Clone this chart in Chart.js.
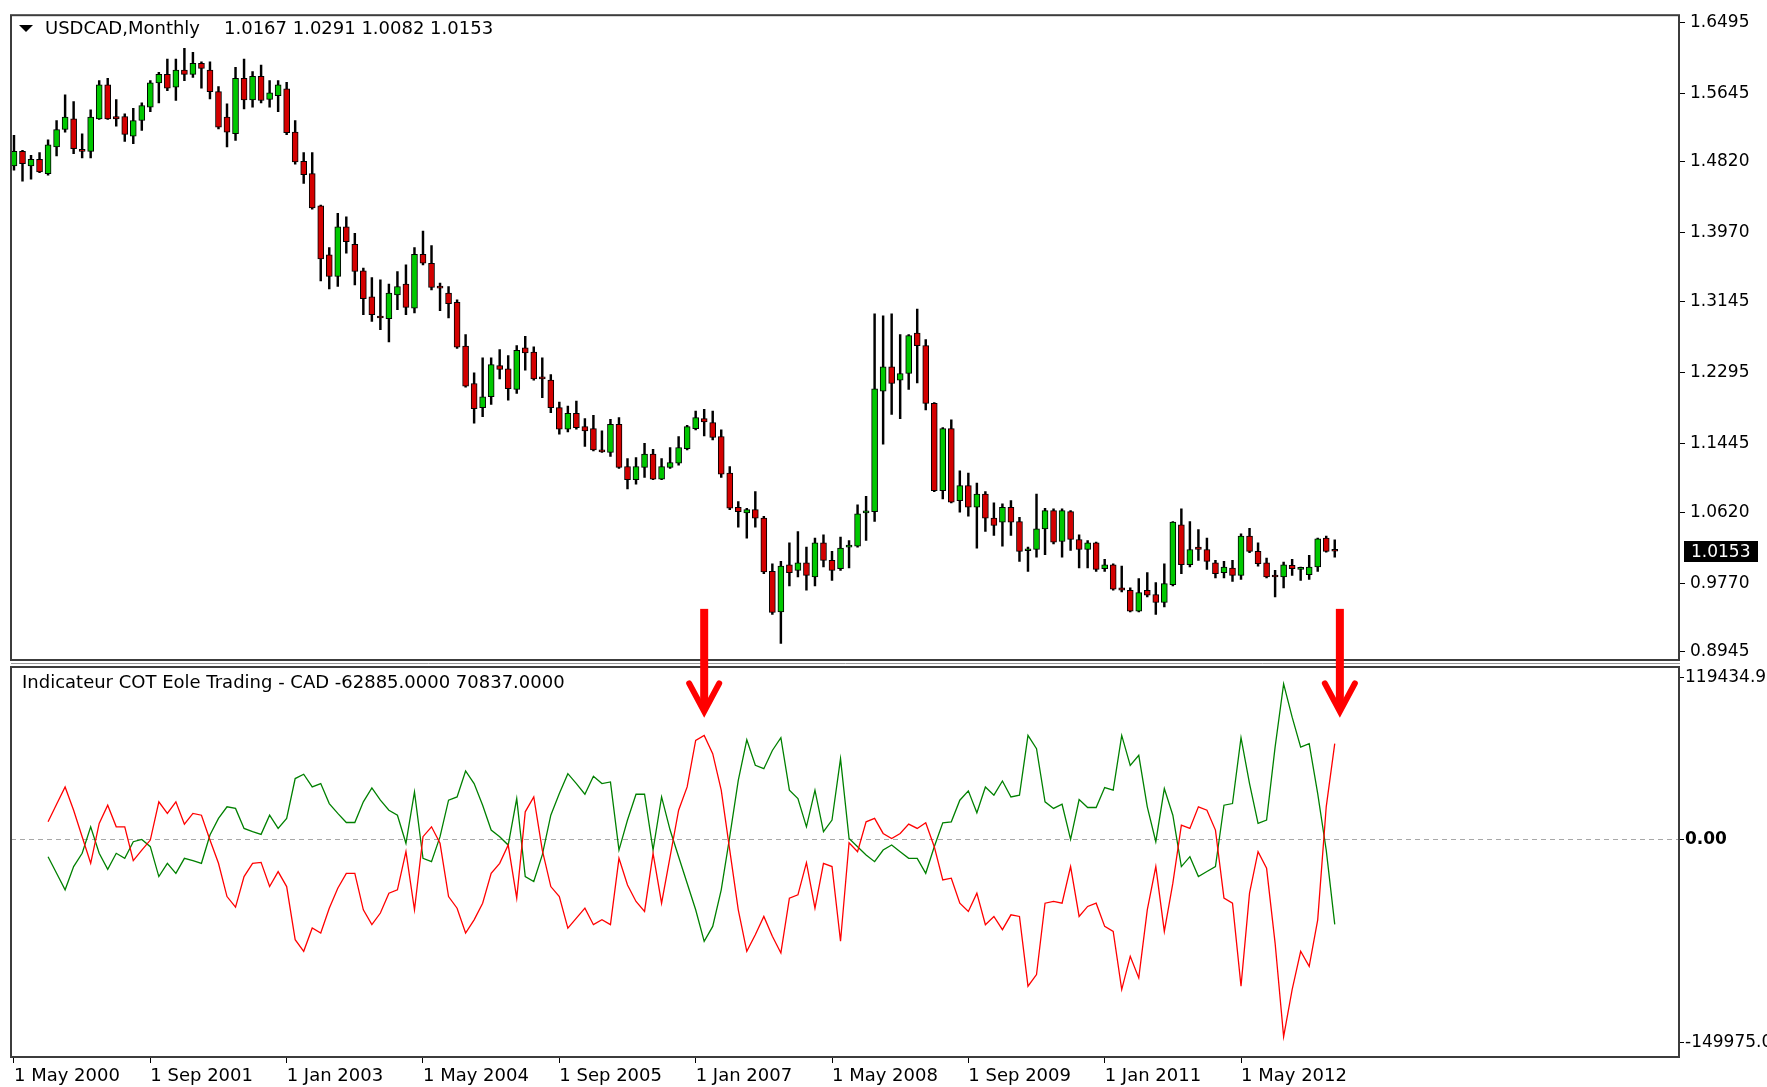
<!DOCTYPE html>
<html>
<head>
<meta charset="utf-8">
<script src="https://cdn.jsdelivr.net/npm/chart.js@4.4.1/dist/chart.umd.min.js"></script>
<style>
  html, body { margin: 0; padding: 0; background: #fff; }
  #wrap { position: relative; width: 1767px; height: 1087px; }
</style>
</head>
<body>
<div id="wrap"><canvas id="chart"></canvas></div>
<script>
const FONT = "'DejaVu Sans', sans-serif";

// USDCAD monthly candles, May 2000 .. Apr 2013 (one entry per month)
const opens = [1.4772,1.4947,1.4772,1.4851,1.4680,1.4999,1.5209,1.5337,1.4959,1.4947,
  1.5337,1.5743,1.5365,1.5365,1.5130,1.5317,1.5476,1.5767,1.5870,1.5715,
  1.5922,1.5870,1.6001,1.5922,1.5663,1.5357,1.5158,1.5822,1.5564,1.5846,
  1.5568,1.5615,1.5695,1.5178,1.4827,1.4680,1.4294,1.3705,1.3446,1.4043,
  1.3832,1.3514,1.3204,1.2965,1.2941,1.3227,1.3355,1.3068,1.3713,1.3605,
  1.3327,1.3247,1.3136,1.2611,1.2164,1.1874,1.2005,1.2379,1.2340,1.2093,
  1.2590,1.2539,1.2232,1.2204,1.1874,1.1615,1.1806,1.1647,1.1623,1.1368,
  1.1337,1.1675,1.1169,1.1010,1.1158,1.1317,1.1018,1.1158,1.1209,1.1384,
  1.1623,1.1743,1.1695,1.1528,1.1090,1.0680,1.0612,1.0652,1.0549,0.9912,
  0.9426,0.9991,0.9924,1.0015,0.9844,1.0254,1.0043,0.9944,1.0202,1.0214,
  1.0612,1.0628,1.2073,1.2363,1.2204,1.2284,1.2769,1.2618,1.1926,1.0879,
  1.1623,1.0760,1.0939,1.0680,1.0839,1.0549,1.0501,1.0680,1.0509,1.0159,
  1.0174,1.0421,1.0640,1.0270,1.0628,1.0294,1.0174,1.0254,0.9944,0.9991,
  0.9713,0.9685,0.9434,0.9685,0.9633,0.9538,0.9752,1.0469,0.9991,1.0202,
  1.0174,1.0015,0.9896,0.9952,0.9864,1.0334,1.0151,1.0015,0.9864,0.9844,
  0.9983,0.9936,0.9872,0.9964,1.0310,1.0167];
const highs = [1.5138,1.4959,1.4899,1.4931,1.5086,1.5317,1.5623,1.5544,1.5158,1.5444,
  1.5795,1.5822,1.5568,1.5397,1.5464,1.5528,1.5795,1.5894,1.6053,1.6053,
  1.6181,1.6133,1.6021,1.6021,1.5723,1.5516,1.5954,1.6053,1.5902,1.5982,
  1.5795,1.5795,1.5775,1.5317,1.4931,1.4931,1.4302,1.3793,1.4203,1.4163,
  1.3964,1.3546,1.3434,1.3407,1.3355,1.3506,1.3586,1.3793,1.3992,1.3816,
  1.3367,1.3327,1.3168,1.2750,1.2292,1.2471,1.2471,1.2570,1.2499,1.2618,
  1.2730,1.2602,1.2471,1.2272,1.1942,1.1894,1.1954,1.1743,1.1782,1.1595,
  1.1735,1.1755,1.1265,1.1277,1.1448,1.1376,1.1265,1.1396,1.1528,1.1663,
  1.1834,1.1854,1.1834,1.1607,1.1169,1.0748,1.0668,1.0867,1.0572,1.0003,
  1.0031,1.0254,1.0389,1.0202,1.0310,1.0350,1.0151,1.0322,1.0282,1.0708,
  1.0811,1.3000,1.2976,1.3000,1.2750,1.2750,1.3056,1.2690,1.1934,1.1635,
  1.1727,1.1118,1.1090,1.0970,1.0867,1.0732,1.0720,1.0760,1.0560,1.0202,
  1.0839,1.0668,1.0660,1.0660,1.0640,1.0350,1.0282,1.0262,1.0055,1.0003,
  0.9975,0.9713,0.9824,0.9896,0.9776,1.0003,1.0509,1.0660,1.0509,1.0413,
  1.0310,1.0043,1.0031,1.0043,1.0362,1.0429,1.0254,1.0071,0.9924,1.0023,
  1.0055,0.9964,1.0103,1.0310,1.0334,1.0291];
const lows = [1.4720,1.4589,1.4612,1.4690,1.4660,1.4891,1.5178,1.4919,1.4867,1.4867,
  1.5329,1.5329,1.5249,1.5066,1.5038,1.5198,1.5424,1.5528,1.5675,1.5556,
  1.5795,1.5834,1.5703,1.5576,1.5217,1.4999,1.5078,1.5456,1.5476,1.5528,
  1.5476,1.5424,1.5146,1.4792,1.4561,1.4254,1.3395,1.3299,1.3327,1.3725,
  1.3347,1.2989,1.2909,1.2810,1.2662,1.3048,1.2989,1.3009,1.3586,1.3287,
  1.3036,1.2949,1.2583,1.2121,1.1687,1.1766,1.1914,1.2220,1.1965,1.2045,
  1.2324,1.2204,1.1993,1.1814,1.1556,1.1583,1.1615,1.1408,1.1356,1.1337,
  1.1289,1.1146,1.0899,1.0958,1.1038,1.1010,1.1010,1.1146,1.1185,1.1368,
  1.1607,1.1536,1.1488,1.1038,1.0652,1.0441,1.0310,1.0441,0.9884,0.9394,
  0.9048,0.9737,0.9844,0.9685,0.9737,0.9964,0.9804,0.9924,0.9952,1.0202,
  1.0282,1.0509,1.1436,1.1794,1.1743,1.2093,1.2172,1.1846,1.0867,1.0779,
  1.0732,1.0620,1.0572,1.0190,1.0389,1.0342,1.0214,1.0342,1.0031,0.9912,
  1.0083,1.0111,1.0242,1.0083,1.0163,0.9952,0.9952,0.9912,0.9912,0.9685,
  0.9665,0.9426,0.9426,0.9605,0.9394,0.9486,0.9737,0.9884,0.9964,1.0043,
  0.9936,0.9832,0.9832,0.9792,0.9816,1.0135,0.9975,0.9832,0.9605,0.9713,
  0.9864,0.9804,0.9816,0.9912,1.0143,1.0082];
const closes = [1.4947,1.4799,1.4851,1.4700,1.5026,1.5209,1.5357,1.4979,1.4947,1.5357,
  1.5743,1.5337,1.5337,1.5150,1.5317,1.5496,1.5767,1.5870,1.5703,1.5922,
  1.5870,1.6001,1.5942,1.5663,1.5237,1.5178,1.5822,1.5564,1.5846,1.5556,
  1.5647,1.5743,1.5170,1.4819,1.4668,1.4270,1.3657,1.3446,1.4043,1.3864,
  1.3506,1.3180,1.2989,1.2949,1.3247,1.3327,1.3076,1.3713,1.3605,1.3315,
  1.3307,1.3120,1.2599,1.2133,1.1862,1.2005,1.2391,1.2332,1.2101,1.2562,
  1.2531,1.2220,1.2220,1.1874,1.1615,1.1806,1.1635,1.1595,1.1368,1.1345,
  1.1675,1.1158,1.1010,1.1169,1.1317,1.1018,1.1169,1.1217,1.1396,1.1647,
  1.1755,1.1703,1.1516,1.1078,1.0668,1.0628,1.0652,1.0549,0.9904,0.9418,
  0.9975,0.9896,1.0015,0.9864,1.0254,1.0043,0.9924,1.0190,1.0222,1.0600,
  1.0628,1.2101,1.2363,1.2164,1.2284,1.2738,1.2618,1.1926,1.0879,1.1623,
  1.0740,1.0939,1.0680,1.0839,1.0549,1.0461,1.0680,1.0501,1.0151,1.0174,
  1.0421,1.0640,1.0262,1.0640,1.0294,1.0174,1.0254,0.9936,0.9991,0.9697,
  0.9685,0.9434,0.9657,0.9625,0.9538,0.9764,1.0501,0.9991,1.0174,1.0174,
  1.0031,0.9884,0.9964,0.9864,1.0334,1.0151,1.0003,0.9844,0.9844,0.9991,
  0.9944,0.9952,0.9964,1.0302,1.0151,1.0153];

// COT indicator, one value per month starting at the 5th candle (Sep 2000)
const cotStart = 4;
const cotGreen = [-12800,-25100,-37300,-20100,-10300,9300,-10300,-22100,-10300,-14000,
  -1700,0,-5400,-27500,-17700,-25100,-14000,-15700,-17700,3200,
  15500,24100,22900,8100,5700,3700,17900,8100,15500,45000,
  48200,38800,41300,26500,19200,12500,12500,27800,38100,29000,
  21600,17900,-2900,35100,-14000,-16500,2000,29000,31400,50600,
  41300,25300,6900,2000,-4200,30200,-27500,-31200,-11500,17900,
  33900,48600,41300,33400,46700,41300,42500,-7900,14300,33400,
  33400,-7900,31400,6900,-12800,-32400,-52100,-75400,-64400,-37300,
  2000,43700,73700,54800,52300,65800,75200,36400,30200,9300,
  36400,5700,14300,59700,700,-5400,-11500,-16500,-7900,-4200,
  -9100,-14000,-14000,-25100,-5400,12300,13000,29000,35900,19700,
  38800,32700,43200,31400,32700,76900,67100,27800,22900,26000,
  0,29500,23600,23600,38300,36400,76900,54800,62200,24100,
  -1700,37600,17900,-20100,-12800,-27500,-23800,-20100,25300,26500,
  75200,41300,11800,14300,68300,115000,90400,68300,70800,33900,
  -7900,-62885];
const cotRed = [13000,26000,38800,21600,2000,-17700,11800,25300,9300,9300,
  -15700,-7900,-500,27800,19200,27800,11300,19200,17900,-500,
  -17700,-42300,-50100,-27500,-17700,-17000,-34900,-23800,-34900,-74200,
  -82800,-65600,-69300,-50900,-36100,-25100,-25100,-52100,-63100,-54500,
  -39800,-37300,-9100,-52100,2000,9300,-2900,-42300,-50900,-69300,
  -59500,-47200,-25100,-17700,-4200,-43500,20400,31400,-7900,-34900,
  -42300,-65600,-58200,-50900,-63100,-59500,-63100,-14000,-33700,-45900,
  -53300,-10300,-47200,-12800,21600,38800,73200,76900,63400,36400,
  -7900,-52100,-82800,-70500,-57000,-71700,-84000,-43500,-41000,-17200,
  -50900,-17700,-20100,-75400,-2500,-9100,13000,15500,4400,700,
  4400,11300,8100,12300,-5400,-30000,-28700,-47200,-53300,-39800,
  -63100,-57000,-66800,-55800,-57000,-108600,-100000,-47200,-45900,-47200,
  -20100,-57000,-49600,-47200,-64400,-68100,-111100,-86500,-102500,-52100,
  -20100,-68100,-32400,10600,8100,24100,21600,6900,-43500,-47200,
  -108600,-39800,-9100,-21400,-76700,-145900,-111100,-82800,-93900,-59500,
  24100,70837];

const priceTicks = [1.6495, 1.5645, 1.4820, 1.3970, 1.3145, 1.2295, 1.1445, 1.0620, 0.9770, 0.8945];
const cotTicks = [119434.9, 0, -149975];
const cotTickLabels = ['119434.9', '0.00', '-149975.0'];
const dateTickBars = [0, 16, 32, 48, 64, 80, 96, 112, 128, 144];
const dateTickLabels = ['1 May 2000', '1 Sep 2001', '1 Jan 2003', '1 May 2004', '1 Sep 2005',
  '1 Jan 2007', '1 May 2008', '1 Sep 2009', '1 Jan 2011', '1 May 2012'];
const lastQuote = [1.0167, 1.0291, 1.0082, 1.0153];

// red arrows: bar position, start on the price pane, tip on the COT pane
const arrows = [
  { bar: 81, fromPrice: 0.9462, toCot: 93200 },
  { bar: 155.6, fromPrice: 0.9462, toCot: 93200 }
];

const wicks = lows.map((l, i) => ({ x: i, y: [l, highs[i]] }));
const bodies = opens.map((o, i) => ({ x: i, y: [o, closes[i]] }));
const bodyColors = opens.map((o, i) => closes[i] >= o ? '#00c800' : '#d40000');

const overlay = {
  id: 'overlay',
  beforeDatasetsDraw(chart) {
    const { ctx, chartArea: a, scales } = chart;
    const y0 = Math.round(scales.yCot.getPixelForValue(0)) + 0.5;
    ctx.save();
    ctx.strokeStyle = '#a8a8a8';
    ctx.lineWidth = 1;
    ctx.setLineDash([5, 4]);
    ctx.beginPath();
    ctx.moveTo(a.left, y0);
    ctx.lineTo(a.right, y0);
    ctx.stroke();
    ctx.restore();
  },
  afterDraw(chart) {
    const { ctx, chartArea: a, scales } = chart;
    const { x, yPrice, yCot } = scales;
    const split = Math.round(yPrice.bottom);
    ctx.save();

    // pane frames and separator
    ctx.fillStyle = '#fff';
    ctx.fillRect(a.left, split - 3, a.right - a.left + 1, 6);
    ctx.strokeStyle = '#3c3c3c';
    ctx.lineWidth = 2;
    ctx.strokeRect(a.left, a.top, a.right - a.left, split - 3 - a.top);
    ctx.strokeRect(a.left, split + 4, a.right - a.left, a.bottom - split - 4);
    ctx.strokeStyle = '#9a9a9a';
    ctx.lineWidth = 1;
    ctx.beginPath();
    ctx.moveTo(a.left, split + 0.5);
    ctx.lineTo(a.right + 1, split + 0.5);
    ctx.stroke();

    // pane captions
    ctx.font = '18px ' + FONT;
    ctx.textBaseline = 'middle';
    ctx.fillStyle = '#000';
    ctx.beginPath();
    ctx.moveTo(19, 25); ctx.lineTo(33, 25); ctx.lineTo(26, 32); ctx.closePath();
    ctx.fill();
    ctx.fillText('USDCAD,Monthly', 45, 29);
    ctx.fillText(lastQuote.map(v => v.toFixed(4)).join(' '), 224, 29);
    ctx.fillText('Indicateur COT Eole Trading - CAD ' + cotGreen[cotGreen.length - 1].toFixed(4) +
      ' ' + cotRed[cotRed.length - 1].toFixed(4), 22, 683);

    // last price marker
    const yq = yPrice.getPixelForValue(lastQuote[3]);
    ctx.font = '17px ' + FONT;
    ctx.fillStyle = '#000';
    ctx.fillRect(a.right + 5, Math.round(yq) - 10, 74, 21);
    ctx.fillStyle = '#fff';
    ctx.fillText(lastQuote[3].toFixed(4), a.right + 12, yq + 1);

    // arrows
    ctx.strokeStyle = '#ff0000';
    ctx.fillStyle = '#ff0000';
    arrows.forEach(ar => {
      const ax = x.getPixelForValue(ar.bar);
      const top = yPrice.getPixelForValue(ar.fromPrice);
      const tip = yCot.getPixelForValue(ar.toCot);
      ctx.fillRect(ax - 4, top, 8, tip - top - 6);
      ctx.lineWidth = 6;
      ctx.lineCap = 'round';
      ctx.lineJoin = 'miter';
      ctx.beginPath();
      ctx.moveTo(ax - 15, tip - 30);
      ctx.lineTo(ax, tip - 2);
      ctx.lineTo(ax + 15, tip - 30);
      ctx.stroke();
    });
    ctx.restore();
  }
};

const tickFont = { family: FONT, size: 17 };

new Chart(document.getElementById('chart'), {
  type: 'bar',
  data: {
    datasets: [
      {
        type: 'line', label: 'green', yAxisID: 'yCot', order: 2,
        data: cotGreen.map((v, k) => ({ x: k + cotStart, y: v })),
        borderColor: '#008000', borderWidth: 1.3, pointRadius: 0, tension: 0
      },
      {
        type: 'line', label: 'red', yAxisID: 'yCot', order: 1,
        data: cotRed.map((v, k) => ({ x: k + cotStart, y: v })),
        borderColor: '#ff0000', borderWidth: 1.3, pointRadius: 0, tension: 0
      },
      {
        label: 'wick', yAxisID: 'yPrice', order: 4, data: wicks,
        backgroundColor: '#000', barThickness: 1.8, grouped: false
      },
      {
        label: 'body', yAxisID: 'yPrice', order: 3, data: bodies,
        backgroundColor: bodyColors, borderColor: '#000', borderWidth: 1,
        borderSkipped: false, barThickness: 6, minBarLength: 2, grouped: false
      }
    ]
  },
  options: {
    animation: false,
    responsive: true,
    maintainAspectRatio: false,
    layout: { padding: { left: 11, top: 11, right: 0, bottom: 0 } },
    plugins: { legend: { display: false }, tooltip: { enabled: false } },
    scales: {
      x: {
        type: 'linear', position: 'bottom', min: -0.35, max: 195.4, offset: false,
        grid: { drawOnChartArea: false, offset: false, tickLength: 6, color: '#000' },
        border: { display: false },
        afterBuildTicks: s => { s.ticks = dateTickBars.map(v => ({ value: v })); },
        afterFit: s => { s.height = 30; },
        ticks: {
          autoSkip: false, maxRotation: 0, align: 'start', padding: 3, color: '#000',
          font: { family: FONT, size: 18 },
          callback: v => dateTickLabels[dateTickBars.indexOf(v)]
        }
      },
      yPrice: {
        type: 'linear', position: 'right', stack: 'panes', stackWeight: 650,
        min: 0.8818, max: 1.6579,
        grid: { drawOnChartArea: false, tickLength: 6, color: '#000' },
        border: { display: false },
        afterBuildTicks: s => { s.ticks = priceTicks.map(v => ({ value: v })); },
        afterFit: s => { s.width = 88; },
        ticks: { padding: 5, color: '#000', font: tickFont, callback: v => v.toFixed(4) }
      },
      yCot: {
        type: 'linear', position: 'right', stack: 'panes', stackWeight: 396,
        min: -161000, max: 130800,
        grid: { drawOnChartArea: false, tickLength: 5, color: '#000' },
        border: { display: false },
        afterBuildTicks: s => { s.ticks = cotTicks.map(v => ({ value: v })); },
        afterFit: s => { s.width = 88; },
        ticks: {
          padding: 1, color: '#000',
          font: c => ({ family: FONT, size: 17, weight: c.tick && c.tick.value === 0 ? 'bold' : 'normal' }),
          callback: v => cotTickLabels[cotTicks.indexOf(v)]
        }
      }
    }
  },
  plugins: [overlay]
});
</script>
</body>
</html>
